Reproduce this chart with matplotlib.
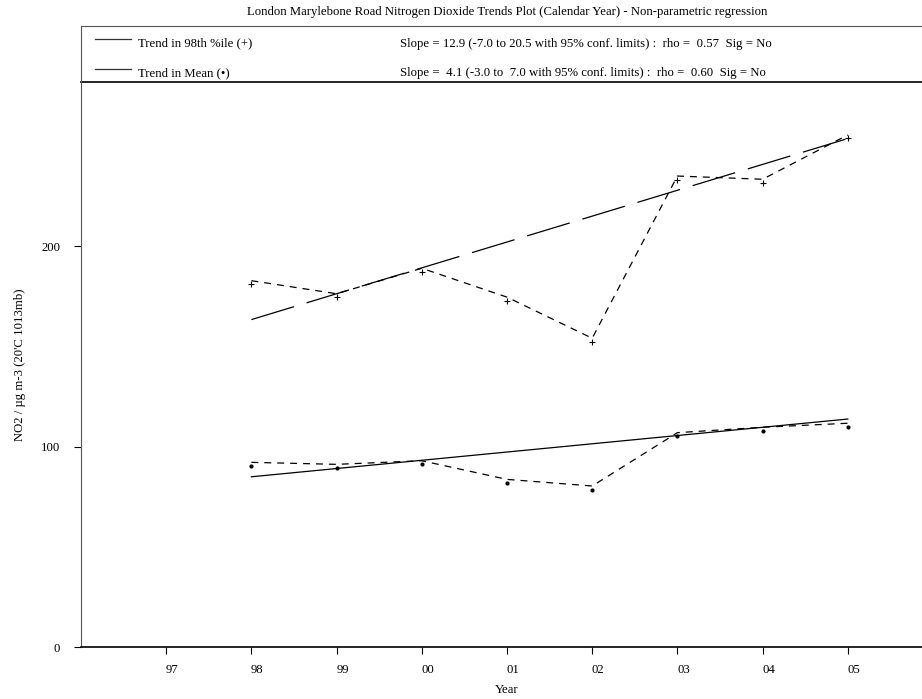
import matplotlib
matplotlib.use('Agg')
import matplotlib.pyplot as plt
from matplotlib.transforms import ScaledTranslation, offset_copy

# ---------------- data ----------------
years = [98, 99, 100, 101, 102, 103, 104, 105]
tick_years = [97, 98, 99, 100, 101, 102, 103, 104, 105]
tick_labels = ['97', '98', '99', '00', '01', '02', '03', '04', '05']
p98_values = [182.7, 176.2, 188.9, 174.5, 154.0, 234.9, 233.3, 255.4]
mean_values = [92.1, 91.1, 92.9, 83.6, 80.3, 106.9, 109.6, 111.6]
trend_x = [98, 105]
trend_p98 = [163.3, 253.6]
trend_mean = [84.9, 113.7]
y_ticks = [0, 100, 200]

title = 'London Marylebone Road Nitrogen Dioxide Trends Plot (Calendar Year) - Non-parametric regression'
legend_names = ['Trend in 98th %ile (+)', 'Trend in Mean (\u2022)']
legend_stats = ['Slope = 12.9 (-7.0 to 20.5 with 95% conf. limits) :  rho =  0.57  Sig = No',
                'Slope =  4.1 (-3.0 to  7.0 with 95% conf. limits) :  rho =  0.60  Sig = No']
xlabel = 'Year'
ylabel = "NO2 / \u00b5g m-3 (20'C 1013mb)"

# ---------------- style ----------------
plt.rcParams['font.family'] = ['Liberation Serif', 'DejaVu Serif']
plt.rcParams['lines.scale_dashes'] = False
FS = 9.2

W, H = 922, 699
fig = plt.figure(figsize=(W / 100, H / 100), dpi=100)

# main axes: pixel box x 81..933, y 82..647
ax = fig.add_axes([81 / W, (H - 647) / H, 852 / W, 565 / H])
ax.set_xlim(96, 106)
ax.set_ylim(0, 281.8)

ax.spines['right'].set_visible(False)
ax.spines['top'].set_color('black')
ax.spines['top'].set_linewidth(1.2)
ax.spines['bottom'].set_color('black')
ax.spines['bottom'].set_linewidth(1.2)
ax.spines['left'].set_color('#555555')
ax.spines['left'].set_linewidth(0.8)

ax.set_xticks(tick_years)
ax.set_xticklabels(tick_labels, fontsize=FS)
ax.set_yticks(y_ticks)
ax.set_yticklabels([str(v) for v in y_ticks], fontsize=FS)
ax.tick_params(axis='x', direction='out', length=5, width=0.8, pad=7)
ax.tick_params(axis='y', direction='out', length=5, width=0.8, pad=10)
shift = ScaledTranslation(6 / 100, 0, fig.dpi_scale_trans)
for lab in ax.get_xticklabels():
    lab.set_transform(lab.get_transform() + shift)

ax.set_xlabel(xlabel, fontsize=FS, labelpad=6)
ax.set_ylabel(ylabel, fontsize=FS, labelpad=11)

dash_data = (0, (5.0, 4.3))
dash_long = (0, (32, 9.5))
ax.plot(years, p98_values, color='black', lw=0.9, linestyle=dash_data)
ax.plot(years, mean_values, color='black', lw=0.9, linestyle=dash_data)
ax.plot(trend_x, trend_p98, color='black', lw=0.9, linestyle=dash_long)
ax.plot(trend_x, trend_mean, color='black', lw=0.9, linestyle='-')

mk_tr = offset_copy(ax.transData, fig=fig, x=0, y=-3.5, units='dots')
ax.plot(years, p98_values, linestyle='none', marker='+', markersize=5,
        markeredgewidth=0.8, color='black', transform=mk_tr)
ax.plot(years, mean_values, linestyle='none', marker='o', markersize=2.0,
        color='black', transform=mk_tr)

# legend box (pixel coordinates)
lax = fig.add_axes([81 / W, (H - 82) / H, 852 / W, (82 - 25.7) / H])
lax.set_xlim(81, 933)
lax.set_ylim(82, 25.7)
lax.set_xticks([])
lax.set_yticks([])
lax.patch.set_alpha(0)
lax.spines['right'].set_visible(False)
lax.spines['bottom'].set_visible(False)
lax.spines['top'].set_color('#555555')
lax.spines['top'].set_linewidth(0.8)
lax.spines['left'].set_color('#555555')
lax.spines['left'].set_linewidth(0.8)

row_line_y = [39, 68.7]
row_base_y = [46.5, 76]
for i in range(2):
    lax.plot([95, 131], [row_line_y[i], row_line_y[i]], color='#333333', lw=0.9)
    lax.text(137.7, row_base_y[i], legend_names[i], fontsize=FS, va='baseline', ha='left')
    lax.text(400, row_base_y[i], legend_stats[i], fontsize=FS, va='baseline', ha='left')

fig.text((81 + 933) / 2 / W, 1 - 12 / H, title, fontsize=FS, ha='center', va='center')

fig.savefig('out.png', dpi=100)
